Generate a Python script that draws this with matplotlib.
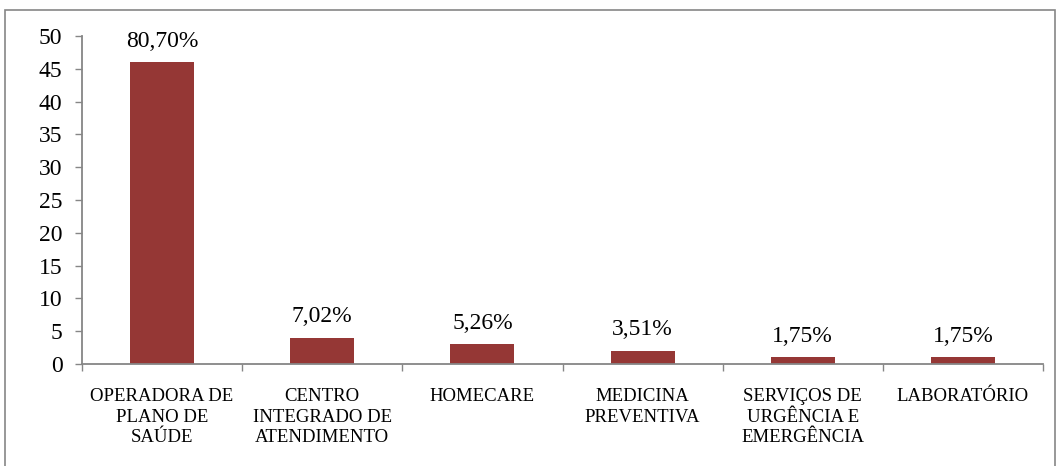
import matplotlib.pyplot as plt
from matplotlib.patches import Rectangle

categorias = ["OPERADORA DE\nPLANO DE\nSAÚDE", "CENTRO\nINTEGRADO DE\nATENDIMENTO", "HOMECARE",
              "MEDICINA\nPREVENTIVA", "SERVIÇOS DE\nURGÊNCIA E\nEMERGÊNCIA", "LABORATÓRIO"]
valores = [46, 4, 3, 2, 1, 1]
rotulos = ["80,70%", "7,02%", "5,26%", "3,51%", "1,75%", "1,75%"]
yticks = [0, 5, 10, 15, 20, 25, 30, 35, 40, 45, 50]

plt.rcParams["font.family"] = ["Liberation Serif", "DejaVu Serif"]
cor_eixo = "#868686"

fig = plt.figure(figsize=(10.61, 4.66), dpi=100)
ax = fig.add_axes([82 / 1061, 1 - 364 / 466, (1043 - 82) / 1061, (364 - 36) / 466])

x = list(range(len(categorias)))
ax.bar(x, valores, width=0.4, color="#953735")
for xi, v, r in zip(x, valores, rotulos):
    ax.text(xi, v + 1.6, r, ha="center", va="bottom", fontsize=17)

ax.set_xlim(-0.5, len(categorias) - 0.5)
ax.set_ylim(0, 50)
ax.set_yticks(yticks)
ax.tick_params(axis="y", labelsize=17, color=cor_eixo, length=5, width=1, pad=9)

# ticks do eixo x nas divisas das categorias
ax.set_xticks([i - 0.5 for i in range(len(categorias) + 1)])
ax.set_xticklabels([])
ax.tick_params(axis="x", color=cor_eixo, length=5, width=1)
for xi, c in zip(x, categorias):
    ax.text(xi, -3.6, c, ha="center", va="top", fontsize=13.5, linespacing=1.3)

for s in ["top", "right"]:
    ax.spines[s].set_visible(False)
for s in ["left", "bottom"]:
    ax.spines[s].set_color(cor_eixo)
    ax.spines[s].set_linewidth(1.3)

# borda da figura
fig.patches.append(Rectangle((5 / 1061, -0.05), 1050 / 1061, 1 - 10 / 466 + 0.05,
                             transform=fig.transFigure, fill=False,
                             edgecolor=cor_eixo, linewidth=1.2))

fig.savefig("out.png", dpi=100)
